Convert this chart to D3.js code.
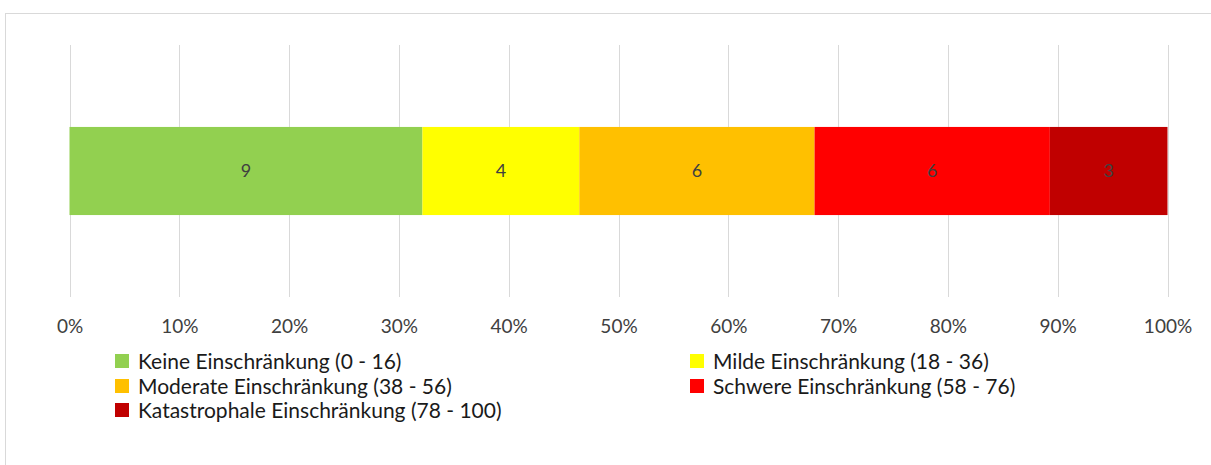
<!DOCTYPE html>
<html>
<head>
<meta charset="utf-8">
<script src="https://cdn.jsdelivr.net/npm/d3@7"></script>
<style>
  body { margin: 0; background: #fff; }
  svg { display: block; font-family: Lato, "Open Sans", sans-serif; }
</style>
</head>
<body>
<svg id="chart" width="1211" height="465"></svg>
<script>
const categories = [
  "Keine Einschränkung (0 - 16)",
  "Milde Einschränkung (18 - 36)",
  "Moderate Einschränkung (38 - 56)",
  "Schwere Einschränkung (58 - 76)",
  "Katastrophale Einschränkung (78 - 100)"
];
const values = [9, 4, 6, 6, 3];
const colors = ["#92D050", "#FFFF00", "#FFC000", "#FF0000", "#C00000"];
const tickValues = [0, 0.1, 0.2, 0.3, 0.4, 0.5, 0.6, 0.7, 0.8, 0.9, 1];

const svg = d3.select("#chart");

// chart frame
svg.append("rect")
  .attr("x", 5.5).attr("y", 13.5)
  .attr("width", 1215).attr("height", 470)
  .attr("fill", "none")
  .attr("stroke", "#d9d9d9");

const x = d3.scaleLinear().domain([0, 1]).range([69.5, 1167.5]);
const y = d3.scaleBand().domain(["row"]).range([45, 297]).paddingInner(0).paddingOuter(0.93);

const total = d3.sum(values);
let acc = 0;
const stacked = values.map((v, i) => {
  const d = { key: categories[i], value: v, x0: acc / total, x1: (acc + v) / total, color: colors[i] };
  acc += v;
  return d;
});

// gridlines
svg.append("g")
  .selectAll("line")
  .data(tickValues)
  .enter().append("line")
  .attr("x1", d => Math.round(x(d)) + 0.5)
  .attr("x2", d => Math.round(x(d)) + 0.5)
  .attr("y1", 45)
  .attr("y2", 297)
  .attr("stroke", "#d9d9d9")
  .attr("stroke-width", 1);

// bars
svg.append("g")
  .selectAll("rect")
  .data(stacked)
  .enter().append("rect")
  .attr("x", d => x(d.x0))
  .attr("width", d => x(d.x1) - x(d.x0))
  .attr("y", y("row"))
  .attr("height", y.bandwidth())
  .attr("fill", d => d.color);

// bar labels
svg.append("g")
  .selectAll("text")
  .data(stacked)
  .enter().append("text")
  .attr("x", d => x((d.x0 + d.x1) / 2))
  .attr("y", y("row") + y.bandwidth() / 2)
  .attr("dy", "0.35em")
  .attr("text-anchor", "middle")
  .style("font-size", "18px")
  .style("fill", "#404040")
  .text(d => d.value);

// x axis labels
const axis = svg.append("g")
  .attr("transform", "translate(0,319)")
  .call(d3.axisBottom(x).tickValues(tickValues).tickFormat(d3.format(".0%")).tickSize(0).tickPadding(0));
axis.select(".domain").remove();
axis.selectAll("text")
  .attr("dy", "0.71em")
  .style("font-family", "Lato, 'Open Sans', sans-serif")
  .style("font-size", "19px")
  .style("fill", "#404040");

// legend
const legendPos = [
  { x: 115, y: 361 }, { x: 690, y: 361 },
  { x: 115, y: 386 }, { x: 690, y: 386 },
  { x: 115, y: 410 }
];
const legend = svg.append("g")
  .selectAll("g")
  .data(stacked)
  .enter().append("g")
  .attr("transform", (d, i) => "translate(" + legendPos[i].x + "," + legendPos[i].y + ")");
legend.append("rect")
  .attr("x", 0).attr("y", -7)
  .attr("width", 14).attr("height", 14)
  .attr("fill", d => d.color);
legend.append("text")
  .attr("x", 23)
  .attr("dy", "0.36em")
  .style("font-size", "21px")
  .style("fill", "#1a1a1a")
  .text(d => d.key);
</script>
</body>
</html>
